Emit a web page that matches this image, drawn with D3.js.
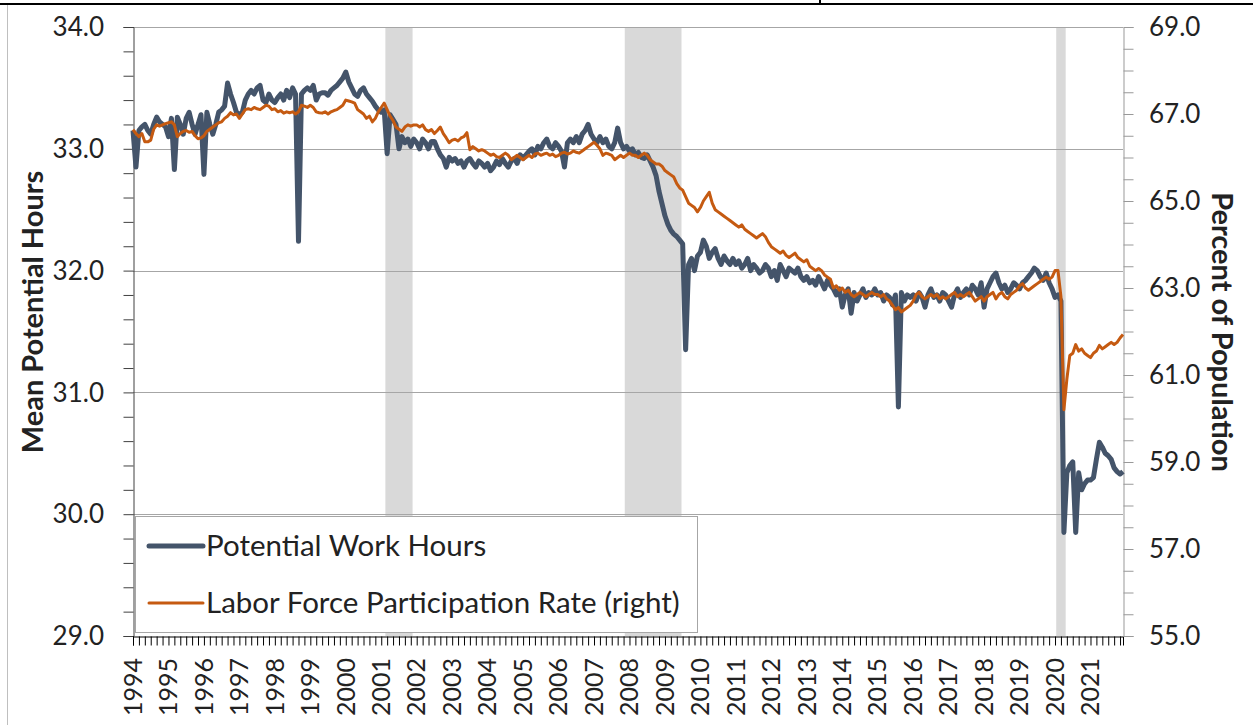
<!DOCTYPE html>
<html>
<head>
<meta charset="utf-8">
<script src="https://cdn.jsdelivr.net/npm/d3@7"></script>
<style>
  body { margin: 0; background: #fff; }
  svg { display: block; font-family: Lato, 'Noto Sans', sans-serif; }
</style>
</head>
<body>
<svg id="chart" width="1253" height="725"></svg>
<script>
/* global d3 */

const startYear = 1994
const yearLabels = d3.range(1994, 2022).map(String)

// monthly values, Jan 1994 .. Dec 2021, one row per year
const potentialHours = [
  33.15, 32.85, 33.15, 33.18, 33.20, 33.15, 33.12, 33.20, 33.26, 33.22, 33.20, 33.18,
  33.10, 33.25, 32.83, 33.26, 33.20, 33.12, 33.25, 33.30, 33.20, 33.12, 33.20, 33.28,
  32.79, 33.30, 33.20, 33.12, 33.20, 33.30, 33.32, 33.35, 33.54, 33.45, 33.38, 33.30,
  33.28, 33.30, 33.40, 33.45, 33.48, 33.45, 33.50, 33.52, 33.40, 33.38, 33.45, 33.40,
  33.38, 33.42, 33.45, 33.40, 33.48, 33.42, 33.50, 33.45, 32.24, 33.45, 33.48, 33.50,
  33.48, 33.52, 33.40, 33.45, 33.46, 33.46, 33.44, 33.48, 33.50, 33.52, 33.55, 33.58,
  33.63, 33.55, 33.50, 33.45, 33.43, 33.48, 33.50, 33.45, 33.42, 33.39, 33.35, 33.32,
  33.30, 33.32, 32.96, 33.28, 33.24, 33.20, 33.00, 33.10, 33.05, 33.08, 33.02, 33.08,
  33.05, 33.00, 33.08, 33.05, 33.00, 33.06, 33.06, 33.00, 32.95, 32.92, 32.85, 32.93,
  32.90, 32.92, 32.88, 32.90, 32.85, 32.90, 32.92, 32.88, 32.85, 32.90, 32.88, 32.85,
  32.88, 32.82, 32.85, 32.90, 32.87, 32.92, 32.88, 32.85, 32.90, 32.92, 32.88, 32.95,
  32.92, 32.95, 32.98, 33.00, 32.95, 33.02, 33.00, 33.05, 33.08, 33.02, 33.00, 33.05,
  33.02, 32.98, 32.85, 33.05, 33.08, 33.05, 33.10, 33.05, 33.12, 33.15, 33.20, 33.12,
  33.08, 33.05, 33.10, 33.05, 33.08, 33.02, 33.00, 33.05, 33.17, 33.05, 33.00, 33.02,
  32.98, 33.00, 32.95, 32.97, 32.93, 32.92, 32.95, 32.90, 32.85, 32.78, 32.65, 32.55,
  32.45, 32.38, 32.33, 32.30, 32.28, 32.25, 32.22, 31.35, 32.05, 32.10, 32.00, 32.12,
  32.15, 32.25, 32.20, 32.10, 32.15, 32.18, 32.10, 32.05, 32.12, 32.08, 32.05, 32.10,
  32.05, 32.08, 32.02, 32.05, 32.10, 32.00, 32.05, 32.02, 31.98, 32.00, 32.05, 32.02,
  31.95, 32.00, 31.92, 32.05, 32.00, 31.95, 32.02, 32.00, 31.98, 32.02, 31.95, 31.92,
  31.95, 31.90, 31.92, 31.88, 31.95, 31.90, 31.85, 31.92, 31.88, 31.85, 31.80, 31.85,
  31.70, 31.80, 31.85, 31.65, 31.82, 31.75, 31.80, 31.85, 31.78, 31.82, 31.80, 31.85,
  31.80, 31.82, 31.75, 31.80, 31.78, 31.72, 31.80, 30.88, 31.82, 31.75, 31.80, 31.78,
  31.80, 31.75, 31.82, 31.78, 31.70, 31.80, 31.85, 31.78, 31.80, 31.75, 31.82, 31.80,
  31.75, 31.70, 31.80, 31.85, 31.78, 31.82, 31.85, 31.80, 31.88, 31.85, 31.80, 31.90,
  31.70, 31.85, 31.90, 31.95, 31.98, 31.90, 31.85, 31.88, 31.82, 31.85, 31.90, 31.88,
  31.85, 31.90, 31.92, 31.95, 31.98, 32.02, 32.00, 31.95, 31.92, 31.98, 31.90, 31.85,
  31.78, 31.80, 31.75, 29.85, 30.34, 30.40, 30.43, 29.85, 30.34, 30.20, 30.25, 30.28,
  30.28, 30.30, 30.45, 30.59, 30.55, 30.50, 30.48, 30.45, 30.38, 30.35, 30.33, 30.35
]

const participationRate = [
  66.64, 66.55, 66.48, 66.55, 66.36, 66.36, 66.40, 66.65, 66.75, 66.72, 66.75, 66.78,
  66.80, 66.82, 66.75, 66.48, 66.55, 66.60, 66.62, 66.58, 66.60, 66.50, 66.43, 66.45,
  66.50, 66.60, 66.65, 66.70, 66.75, 66.80, 66.82, 66.90, 66.95, 67.03, 66.98, 67.00,
  66.90, 67.00, 67.10, 67.12, 67.10, 67.15, 67.12, 67.10, 67.15, 67.20, 67.18, 67.10,
  67.12, 67.05, 67.08, 67.02, 67.05, 67.03, 67.05, 67.00, 67.05, 67.20, 67.18, 67.15,
  67.20, 67.15, 67.05, 67.03, 67.02, 67.05, 67.00, 67.05, 67.08, 67.10, 67.15, 67.20,
  67.32, 67.30, 67.28, 67.25, 67.10, 67.05, 67.00, 66.90, 66.95, 66.82, 66.90, 67.05,
  67.15, 67.25, 67.10, 66.95, 66.85, 66.70, 66.65, 66.60, 66.70, 66.75, 66.72, 66.75,
  66.75, 66.70, 66.75, 66.64, 66.60, 66.64, 66.55, 66.62, 66.70, 66.55, 66.45, 66.34,
  66.40, 66.42, 66.38, 66.45, 66.48, 66.57, 66.18, 66.25, 66.20, 66.15, 66.18, 66.15,
  66.10, 66.05, 66.08, 66.02, 66.00, 66.05, 66.10, 66.05, 65.95, 66.00, 66.05, 66.00,
  65.95, 66.00, 66.05, 66.00, 66.08, 66.10, 66.05, 66.08, 66.10, 66.05, 66.08, 66.02,
  66.05, 66.10, 66.12, 66.08, 66.10, 66.15, 66.12, 66.10, 66.15, 66.20, 66.25, 66.30,
  66.35, 66.28, 66.20, 66.05, 66.10, 66.08, 66.05, 65.95, 66.00, 66.05, 66.00, 66.05,
  66.10, 66.05, 66.05, 66.00, 66.05, 66.10, 66.05, 65.95, 65.90, 65.85, 65.85, 65.80,
  65.70, 65.65, 65.60, 65.55, 65.40, 65.30, 65.25, 65.10, 64.95, 64.90, 64.85, 64.75,
  64.85, 65.00, 65.10, 65.20, 64.95, 64.80, 64.75, 64.70, 64.65, 64.60, 64.55, 64.50,
  64.45, 64.40, 64.45, 64.35, 64.30, 64.25, 64.20, 64.15, 64.20, 64.25, 64.18, 64.05,
  63.95, 63.90, 63.85, 63.80, 63.85, 63.75, 63.70, 63.75, 63.80, 63.70, 63.65, 63.60,
  63.65, 63.50, 63.45, 63.40, 63.45, 63.40, 63.30, 63.25, 63.20, 63.00, 63.05, 62.95,
  63.00, 62.90, 62.95, 62.85, 62.80, 62.85, 62.90, 62.85, 62.80, 62.85, 62.90, 62.85,
  62.85, 62.80, 62.85, 62.75, 62.70, 62.60, 62.50, 62.55, 62.45, 62.50, 62.55, 62.60,
  62.70, 62.85, 62.90, 62.80, 62.75, 62.80, 62.85, 62.80, 62.85, 62.75, 62.80, 62.75,
  62.80, 62.85, 62.90, 62.80, 62.85, 62.80, 62.85, 62.90, 62.80, 62.70, 62.75, 62.80,
  62.70, 62.80, 62.85, 62.90, 62.75, 62.85, 62.90, 62.80, 62.75, 62.85, 62.90, 62.95,
  63.05, 63.10, 63.00, 62.95, 63.00, 63.05, 63.10, 63.15, 63.20, 63.25, 63.20, 63.25,
  63.40, 63.40, 62.80, 60.20, 60.90, 61.45, 61.50, 61.70, 61.55, 61.60, 61.50, 61.45,
  61.40, 61.50, 61.55, 61.68, 61.60, 61.65, 61.70, 61.75, 61.70, 61.75, 61.85, 61.93
]

// recessions as [start, end] in 'YYYY-MM'
const recessions = [['2001-03', '2001-11'], ['2007-12', '2009-06'], ['2020-02', '2020-04']]

const leftTicks = [29, 30, 31, 32, 33, 34]
const rightTicks = [55, 57, 59, 61, 63, 65, 67, 69]

const seriesNames = ['Potential Work Hours', 'Labor Force Participation Rate (right)']
const seriesColors = ['#44546a', '#c55a11']

const plot = { left: 133, right: 1123, top: 27, bottom: 636 }

const monthIndex = s => (+s.slice(0, 4) - startYear) * 12 + (+s.slice(5, 7) - 1)

const x = d3.scaleLinear().domain([0, potentialHours.length - 1]).range([plot.left, plot.right])
const yL = d3.scaleLinear().domain([29, 34]).range([plot.bottom, plot.top])
const yR = d3.scaleLinear().domain([55, 69]).range([plot.bottom, plot.top])

const svg = d3.select('#chart')

// page frame
svg.append('line').attr('x1', 0).attr('x2', 1253).attr('y1', 4).attr('y2', 4)
  .attr('stroke', '#000').attr('stroke-width', 2)
svg.append('line').attr('x1', 820).attr('x2', 820).attr('y1', 0).attr('y2', 4)
  .attr('stroke', '#000').attr('stroke-width', 2)
svg.append('line').attr('x1', 7.5).attr('x2', 7.5).attr('y1', 5).attr('y2', 725)
  .attr('stroke', '#bfbfbf').attr('stroke-width', 1)

// recession shading
svg.append('g').selectAll('rect')
  .data(recessions)
  .enter().append('rect')
  .attr('x', d => x(monthIndex(d[0]) - 0.6))
  .attr('width', d => x(monthIndex(d[1]) + 0.6) - x(monthIndex(d[0]) - 0.6))
  .attr('y', plot.top)
  .attr('height', plot.bottom - plot.top)
  .attr('fill', '#d9d9d9')

// gridlines
svg.append('g').selectAll('line')
  .data(leftTicks.slice(1))
  .enter().append('line')
  .attr('x1', plot.left).attr('x2', plot.right)
  .attr('y1', d => Math.round(yL(d)) + 0.5).attr('y2', d => Math.round(yL(d)) + 0.5)
  .attr('stroke', '#a6a6a6').attr('stroke-width', 1)

// left axis
const leftAxis = svg.append('g')
  .attr('transform', 'translate(' + (plot.left + 0.5) + ',0)')
  .call(d3.axisLeft(yL).tickValues(d3.range(29, 34.01, 0.2)).tickSize(10).tickFormat(''))
leftAxis.select('.domain').attr('stroke', '#404040')
leftAxis.selectAll('.tick line').attr('stroke', '#404040')
svg.append('g').selectAll('text')
  .data(leftTicks)
  .enter().append('text')
  .attr('x', 104).attr('y', d => yL(d))
  .attr('dy', '0.35em')
  .attr('text-anchor', 'end')
  .attr('font-size', 26)
  .attr('fill', '#222')
  .text(d => d.toFixed(1))

// right axis
const rightAxis = svg.append('g')
  .attr('transform', 'translate(' + (plot.right + 0.5) + ',0)')
  .call(d3.axisRight(yR).tickValues(d3.range(55, 69.01, 0.5)).tickSize(10).tickFormat(''))
rightAxis.select('.domain').attr('stroke', '#999')
rightAxis.selectAll('.tick line').attr('stroke', '#999')
svg.append('g').selectAll('text')
  .data(rightTicks)
  .enter().append('text')
  .attr('x', 1149).attr('y', d => yR(d))
  .attr('dy', '0.35em')
  .attr('font-size', 26)
  .attr('fill', '#222')
  .text(d => d.toFixed(1))

// bottom axis
const bottomAxis = svg.append('g')
  .attr('transform', 'translate(0,' + (plot.bottom + 0.5) + ')')
  .call(d3.axisBottom(x).tickValues(d3.range(0, potentialHours.length, 2)).tickSize(9).tickFormat(''))
bottomAxis.select('.domain').attr('stroke', '#000')
bottomAxis.selectAll('.tick line').attr('stroke', '#000')
svg.append('g').selectAll('text')
  .data(yearLabels)
  .enter().append('text')
  .attr('transform', (d, i) => 'translate(' + x(i * 12) + ',658) rotate(-90)')
  .attr('dy', '0.35em')
  .attr('text-anchor', 'end')
  .attr('font-size', 25)
  .attr('fill', '#222')
  .text(d => d)

// lines
const hoursLine = d3.line().x((d, i) => x(i)).y(d => yL(d))
const rateLine = d3.line().x((d, i) => x(i)).y(d => yR(d))

svg.append('path')
  .datum(potentialHours)
  .attr('d', hoursLine)
  .attr('fill', 'none')
  .attr('stroke', seriesColors[0])
  .attr('stroke-width', 5)
  .attr('stroke-linejoin', 'round')

svg.append('path')
  .datum(participationRate)
  .attr('d', rateLine)
  .attr('fill', 'none')
  .attr('stroke', seriesColors[1])
  .attr('stroke-width', 3)
  .attr('stroke-linejoin', 'round')

// axis titles
svg.append('text')
  .attr('transform', 'translate(33,312) rotate(-90)')
  .attr('dy', '0.35em')
  .attr('text-anchor', 'middle')
  .attr('font-size', 29)
  .attr('font-weight', 'bold')
  .attr('fill', '#222')
  .text('Mean Potential Hours')

svg.append('text')
  .attr('transform', 'translate(1222,332) rotate(90)')
  .attr('dy', '0.35em')
  .attr('text-anchor', 'middle')
  .attr('font-size', 29)
  .attr('font-weight', 'bold')
  .attr('fill', '#222')
  .text('Percent of Population')

// legend
const legend = svg.append('g').attr('transform', 'translate(135,516)')
legend.append('rect')
  .attr('x', 0.5).attr('y', 0.5).attr('width', 562).attr('height', 116)
  .attr('fill', '#fff').attr('stroke', '#a6a6a6')
seriesNames.forEach((name, i) => {
  const ly = 30 + i * 57
  legend.append('line')
    .attr('x1', 14).attr('x2', 68).attr('y1', ly).attr('y2', ly)
    .attr('stroke', seriesColors[i])
    .attr('stroke-width', i === 0 ? 5 : 3)
    .attr('stroke-linecap', 'round')
  legend.append('text')
    .attr('x', 71).attr('y', ly)
    .attr('dy', '0.35em')
    .attr('font-size', 29.5)
    .attr('fill', '#222')
    .text(name)
})
</script>
</body>
</html>
